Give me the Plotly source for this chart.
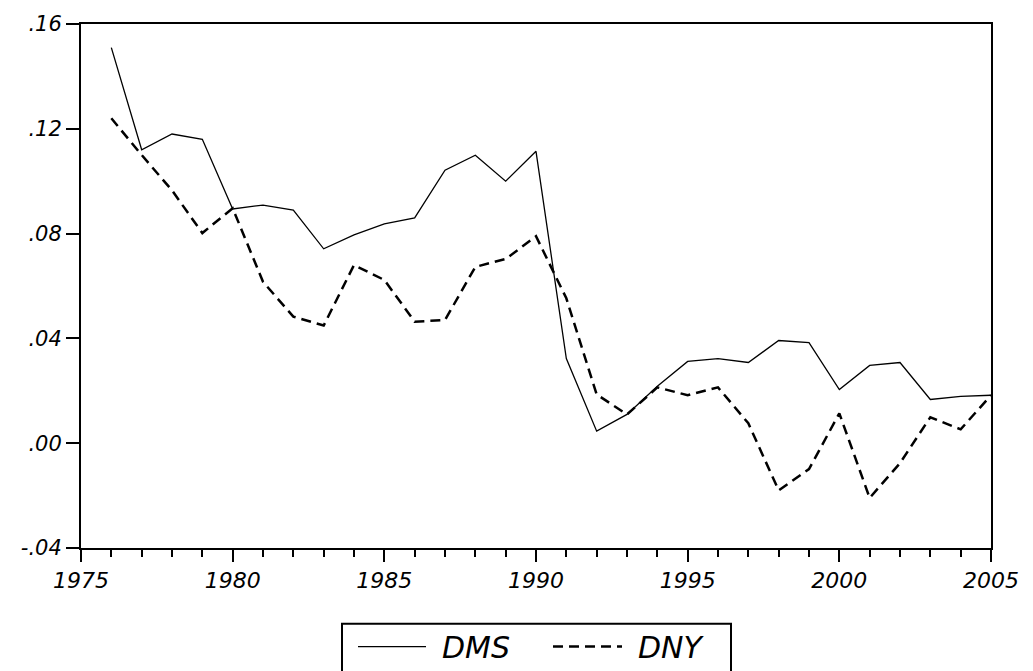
import plotly.graph_objects as go

years = list(range(1976, 2006))
dms = [0.151, 0.112, 0.118, 0.116, 0.0894, 0.0909, 0.089, 0.0742, 0.0795, 0.0837,
       0.086, 0.1042, 0.1099, 0.100, 0.1114, 0.0323, 0.0046, 0.011, 0.0217, 0.0312,
       0.0323, 0.0308, 0.0392, 0.0384, 0.0205, 0.0297, 0.0308, 0.0167, 0.0179, 0.0183]
dny = [0.124, 0.110, 0.0965, 0.0802, 0.0897, 0.0616, 0.0483, 0.0449, 0.068, 0.0623,
       0.0464, 0.047, 0.0673, 0.0703, 0.079, 0.0553, 0.0186, 0.011, 0.0213, 0.0183,
       0.0213, 0.0076, -0.018, -0.0099, 0.0114, -0.0209, -0.0076, 0.0099, 0.0053, 0.0183]
series_names = ["DMS", "DNY"]
y_tickvals = [-0.04, 0.0, 0.04, 0.08, 0.12, 0.16]
y_ticktext = ["-.04", ".00", ".04", ".08", ".12", ".16"]

W, H = 1033, 671
L, R, T, B = 81, 991, 22, 548

def px(x):
    return (x - L) / (R - L)

def py(y):
    return (B - y) / (B - T)

FONT = "DejaVu Sans, Liberation Sans, Arial"

fig = go.Figure()
fig.add_trace(go.Scatter(x=years, y=dms, mode="lines", name=series_names[0],
                         line=dict(color="black", width=1.3), showlegend=False))
fig.add_trace(go.Scatter(x=years, y=dny, mode="lines", name=series_names[1],
                         line=dict(color="black", width=2.5, dash="10px,6px"), showlegend=False))

fig.update_layout(
    width=W, height=H,
    margin=dict(l=L, r=W - R, t=T, b=H - B, pad=0),
    paper_bgcolor="white", plot_bgcolor="white",
    xaxis=dict(range=[1975, 2005], tickmode="linear", tick0=1975, dtick=5,
               ticks="outside", ticklen=12, tickwidth=2, tickcolor="#000000",
               showline=True, linecolor="black", linewidth=2, mirror=True,
               showgrid=False, zeroline=False,
               tickfont=dict(family=FONT, size=22, color="black", style="italic"),
               minor=dict(tick0=1975, dtick=1, ticks="outside", ticklen=7, tickwidth=2,
                          tickcolor="#000000", showgrid=False)),
    yaxis=dict(range=[-0.04, 0.16], tickmode="array", tickvals=y_tickvals, ticktext=y_ticktext,
               ticks="outside", ticklen=13, tickwidth=2, tickcolor="#000000",
               showline=True, linecolor="black", linewidth=2, mirror=True,
               showgrid=False, zeroline=False,
               tickfont=dict(family=FONT, size=21, color="black", style="italic")),
)

shapes = [
    dict(type="rect", xref="paper", yref="paper", x0=px(342), x1=px(731), y0=py(690), y1=py(624),
         line=dict(color="black", width=2), fillcolor="white", layer="above"),
    dict(type="line", xref="paper", yref="paper", x0=px(358), x1=px(426), y0=py(647), y1=py(647),
         line=dict(color="black", width=1.3)),
    dict(type="line", xref="paper", yref="paper", x0=px(553), x1=px(622), y0=py(647), y1=py(647),
         line=dict(color="black", width=2.5, dash="10px,6px")),
]
annotations = [
    dict(xref="paper", yref="paper", x=px(440), y=py(648), text=series_names[0], showarrow=False,
         xanchor="left", yanchor="middle", font=dict(family=FONT, size=30, color="black", style="italic")),
    dict(xref="paper", yref="paper", x=px(636), y=py(648), text=series_names[1], showarrow=False,
         xanchor="left", yanchor="middle", font=dict(family=FONT, size=30, color="black", style="italic")),
]
fig.update_layout(shapes=shapes, annotations=annotations)

fig.write_html("out.html")
